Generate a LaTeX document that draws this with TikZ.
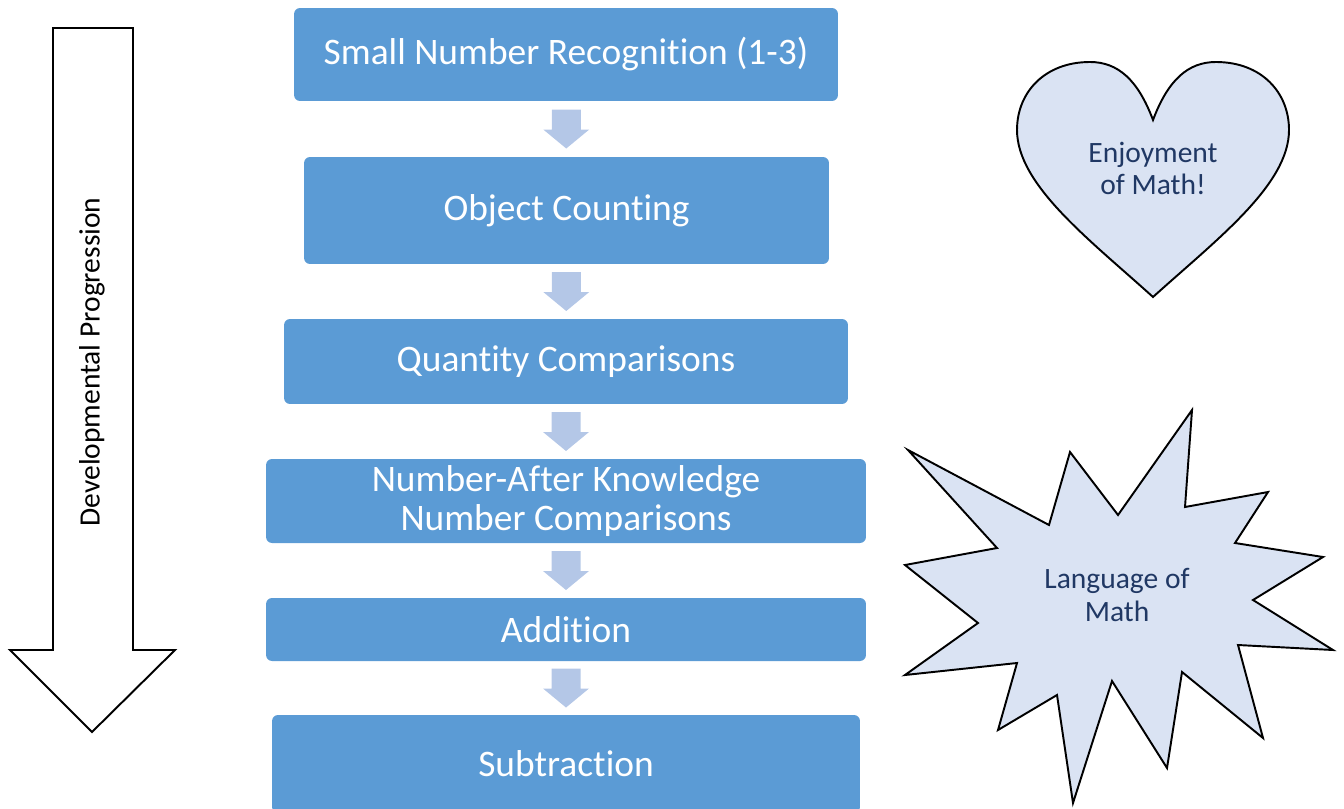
\documentclass[tikz,border=0pt]{standalone}
\usepackage{fontspec}
\setmainfont{Carlito}[Ligatures=CommonOff]
\usetikzlibrary{positioning,calc}
\definecolor{stageblue}{HTML}{5B9BD5}
\definecolor{stepblue}{HTML}{B4C7E7}
\definecolor{paleblue}{HTML}{DAE3F3}
\definecolor{navy}{HTML}{203864}

\begin{document}
\begin{tikzpicture}[x=0.02cm, y=-0.02cm, line width=1.1pt, line join=miter,
  stage/.style={fill=stageblue, rounded corners=3.4pt, text=white, align=center, inner sep=0pt,
    font=\fontsize{21.3}{22.6}\selectfont},
  note/.style={text=navy, align=center, font=\fontsize{16.8}{18.7}\selectfont}]
\useasboundingbox (0,0) rectangle (1344,808);
\node[stage, minimum width=10.88cm, minimum height=1.86cm] (snr) at (566,54.5) {Small Number Recognition (1-3)};
\node[stage, minimum width=10.5cm, minimum height=2.14cm] (oc) at (566.5,210.5) {Object Counting};
\node[stage, minimum width=11.28cm, minimum height=1.7cm] (qc) at (566,361.5) {Quantity Comparisons};
\node[stage, minimum width=12cm, minimum height=1.68cm] (nak) at (566,501) {Number-After Knowledge\\Number Comparisons};
\node[stage, minimum width=12cm, minimum height=1.26cm] (add) at (566,629.5) {Addition};
\node[stage, minimum width=11.76cm, minimum height=1.96cm] (sub) at (566,764) {Subtraction};
\foreach \a/\b in {snr/oc, oc/qc, qc/nak, nak/add, add/sub} {
  \coordinate (m) at ($(\a.south)!0.5!(\b.north)$);
  \fill[stepblue] ([shift={(-14.5,-19.5)}]m) -- ++(29,0) -- ++(0,20) -- ++(8.5,0)
    -- ++(-23,19) -- ++(-23,-19) -- ++(8.5,0) -- cycle;
}
\draw (53,28) -- (133,28) -- (133,650) -- (175,650) -- (92,732) -- (10,650) -- (53,650) -- cycle;
\node[rotate=90, font=\fontsize{16.8}{18}\selectfont] (dp) at (92,362) {Developmental Progression};
\draw[fill=paleblue] (1153,120) .. controls (1138,80) and (1118,62) .. (1090,62)
  .. controls (1045,62) and (1017,92) .. (1017,130) .. controls (1017,185) and (1090,240) .. (1153,297)
  .. controls (1216,240) and (1289,185) .. (1289,130) .. controls (1289,92) and (1261,62) .. (1216,62)
  .. controls (1188,62) and (1168,80) .. (1153,120) -- cycle;
\node[note] (em) at (1153,168.5) {Enjoyment\\of Math!};
\draw[fill=paleblue] (908,450) -- (1049,525) -- (1070,452) -- (1118,515) -- (1192,410) -- (1185,507)
  -- (1268,492) -- (1235,543) -- (1323,557) -- (1253,600) -- (1333,650) -- (1238,645) -- (1263,738)
  -- (1182,672) -- (1167,768) -- (1112,681) -- (1073,803) -- (1057,695) -- (998,730) -- (1017,663)
  -- (905,675) -- (978,623) -- (905,565) -- (997,548) -- cycle;
\node[note] (lm) at (1117,595) {Language of\\Math};
\end{tikzpicture}
\end{document}
